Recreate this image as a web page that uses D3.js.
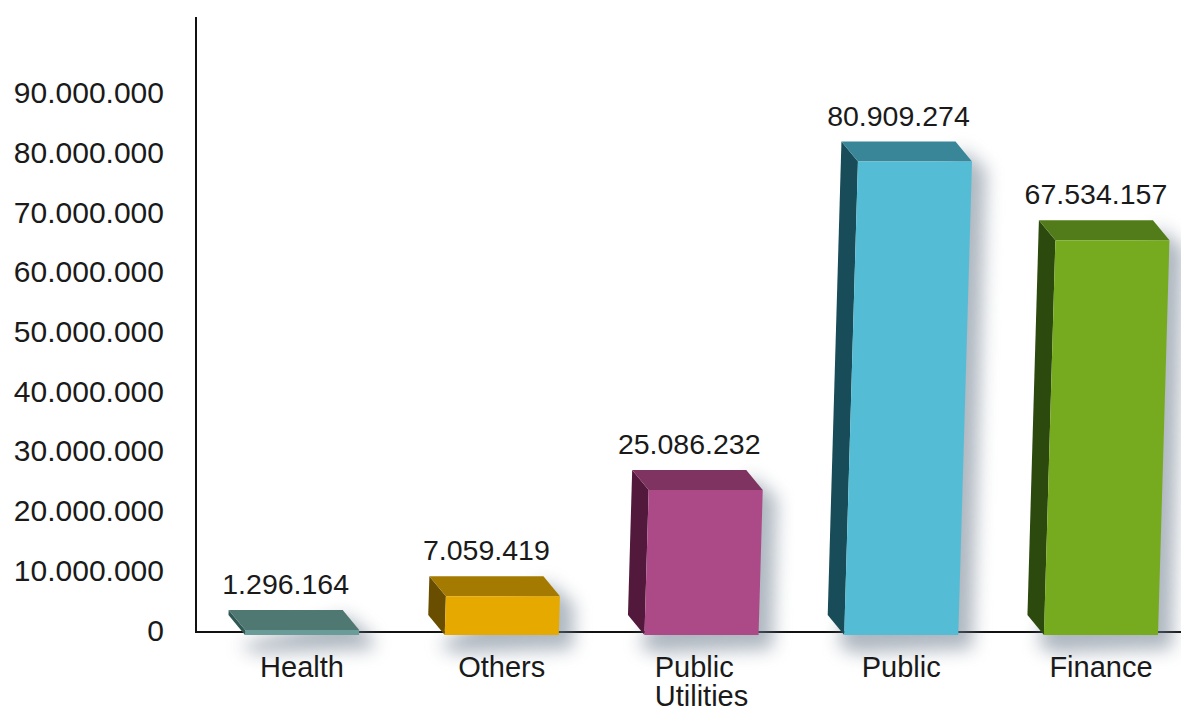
<!DOCTYPE html>
<html>
<head>
<meta charset="utf-8">
<script src="https://cdn.jsdelivr.net/npm/d3@7"></script>
<style>
  html, body { margin: 0; padding: 0; background: #ffffff; }
  svg { display: block; font-family: "Liberation Sans", Arial, Helvetica, sans-serif; }
</style>
</head>
<body>
<svg id="chart" width="1181" height="711"></svg>
<script>
// ---- data ----
const categories = ["Health", "Others", "Public Utilities", "Public", "Finance"];
const labelLines = [["Health"], ["Others"], ["Public", "Utilities"], ["Public"], ["Finance"]];
const values = [1296164, 7059419, 25086232, 80909274, 67534157];
const tickValues = [0, 10000000, 20000000, 30000000, 40000000, 50000000, 60000000, 70000000, 80000000, 90000000];
const frontColors = ["#6a9d99", "#e6a900", "#ab4a86", "#55bcd6", "#77ab1f"];
const topColors   = ["#4f7873", "#a57a00", "#7e3361", "#3a8699", "#527c1a"];
const sideColors  = ["#2f5753", "#6a4e00", "#52193d", "#174c58", "#2d4a0e"];

// ---- layout ----
const W = 1181, H = 711;
const svg = d3.select("#chart");
const fmt = d3.formatLocale({decimal: ",", thousands: ".", grouping: [3], currency: ["", ""]}).format(",d");

const yAxisScale = d3.scaleLinear().domain([0, 90000000]).range([630.5, 93]);
const yBar = d3.scaleLinear().domain([0, 90000000]).range([627.7, 98]);
const x = d3.scaleBand().domain(categories).range([245, 1158]).paddingInner(0.429).paddingOuter(0);

const baseY = 632;
const frontBottom = 635;
const depthX = -16.5, depthY = -20;
const skew = 0.029;

// shadow filter
const defs = svg.append("defs");
const f = defs.append("filter").attr("id", "blur").attr("x", "-50%").attr("y", "-50%").attr("width", "200%").attr("height", "200%");
f.append("feGaussianBlur").attr("stdDeviation", 9);

// axes lines
svg.append("line").attr("x1", 195).attr("x2", W).attr("y1", baseY).attr("y2", baseY)
  .attr("stroke", "#111").attr("stroke-width", 2);
svg.append("line").attr("x1", 196).attr("x2", 196).attr("y1", 17).attr("y2", baseY)
  .attr("stroke", "#111").attr("stroke-width", 2);

// y axis labels
const yAxis = d3.axisLeft(yAxisScale).tickValues(tickValues).tickSize(0).tickPadding(32).tickFormat(fmt);
const gy = svg.append("g").attr("transform", "translate(196,0)").call(yAxis);
gy.select(".domain").remove();
gy.selectAll("text").attr("font-size", 30).attr("fill", "#1a1a1a")
  .attr("font-family", "'Liberation Sans', Arial, sans-serif");

// bar geometry
const bars = categories.map((c, i) => {
  const xb = x(c), bw = x.bandwidth();
  const yft = yBar(values[i]) + 10;
  const sh = skew * (frontBottom - yft);
  const FBL = [xb, frontBottom], FBR = [xb + bw, frontBottom];
  const FTL = [xb + sh, yft], FTR = [xb + bw + sh, yft];
  const BTL = [FTL[0] + depthX, FTL[1] + depthY], BTR = [FTR[0] + depthX, FTR[1] + depthY];
  const BBL = [FBL[0] + depthX, FBL[1] + depthY];
  return {c, i, FBL, FBR, FTL, FTR, BTL, BTR, BBL};
});

const poly = pts => "M" + pts.map(p => p.join(",")).join("L") + "Z";

// shadows
svg.append("g").selectAll("path").data(bars).join("path")
  .attr("d", d => poly([
    [d.BTR[0] + 4, d.BTR[1] + 6], [d.FTR[0] + 14, d.FTR[1] + 8],
    [d.FBR[0] + 14, d.FBR[1] + 14], [d.FBL[0] + 10, d.FBL[1] + 18], [d.FBL[0] - 6, d.FBL[1] + 10]
  ]))
  .attr("fill", "#6c7b8c").attr("opacity", 0.55).attr("filter", "url(#blur)");

// bars
const gb = svg.append("g").selectAll("g").data(bars).join("g");
gb.append("path").attr("d", d => poly([d.FTL, d.BTL, d.BBL, d.FBL])).attr("fill", d => sideColors[d.i]);
gb.append("path").attr("d", d => poly([d.FTL, d.BTL, d.BTR, d.FTR])).attr("fill", d => topColors[d.i]);
gb.append("path").attr("d", d => poly([d.FTL, d.FTR, d.FBR, d.FBL])).attr("fill", d => frontColors[d.i]);

// value labels
svg.append("g").selectAll("text").data(bars).join("text")
  .attr("x", d => (d.BTL[0] + d.BTR[0]) / 2)
  .attr("y", d => d.BTL[1] - 16)
  .attr("text-anchor", "middle")
  .attr("font-size", 28.5).attr("fill", "#1a1a1a")
  .text(d => fmt(values[d.i]));

// category labels (multi-line block centred under the bar, lines left-aligned)
svg.append("g").selectAll("text").data(bars).join("text")
  .attr("font-size", 29).attr("fill", "#1a1a1a")
  .attr("text-anchor", "start")
  .each(function(d) {
    const t = d3.select(this);
    const lines = labelLines[d.i];
    lines.forEach((ln, k) => {
      t.append("tspan").attr("x", 0).attr("y", 677 + k * 29).text(ln);
    });
    const cx = x(d.c) + x.bandwidth() / 2;
    const bw = this.getBBox().width;
    t.selectAll("tspan").attr("x", cx - bw / 2);
  });
</script>
</body>
</html>
